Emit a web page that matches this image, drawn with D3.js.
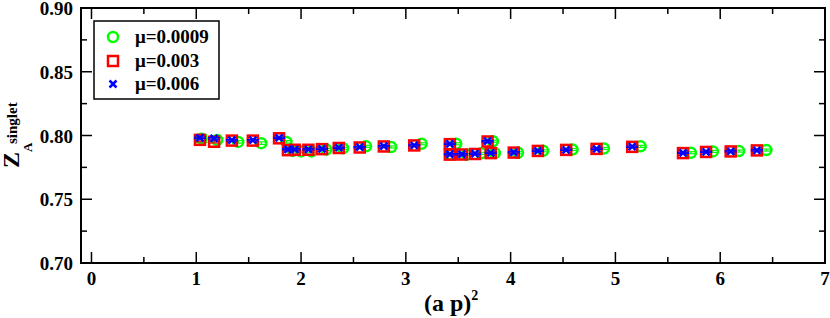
<!DOCTYPE html>
<html><head><meta charset="utf-8">
<script src="https://cdn.jsdelivr.net/npm/d3@7"></script>
<style>
body{margin:0;background:#fff;}
svg text{font-family:"Liberation Serif","Times New Roman",serif;font-weight:bold;}
</style></head>
<body><svg id="c" width="830" height="318"></svg>
<script>
// Data
const seriesNames = ["μ=0.0009", "μ=0.003", "μ=0.006"];
const xG = [1.05,1.20,1.40,1.62,1.86,1.92,2.00,2.10,2.24,2.40,2.62,2.86,3.15,3.48,3.43,3.58,3.72,3.83,3.85,4.07,4.31,4.59,4.89,5.24,5.72,5.93,6.18,6.44];
const yG = [0.7975,0.7965,0.7950,0.7940,0.7950,0.7880,0.7875,0.7875,0.7890,0.7900,0.7915,0.7910,0.7935,0.7935,0.7850,0.7850,0.7860,0.7955,0.7862,0.7865,0.7880,0.7890,0.7898,0.7915,0.7865,0.7875,0.7878,0.7886];
const eG = [0.0030,0.0015,0.0010,0.0010,0.0010,0.0010,0.0010,0.0010,0.0008,0.0008,0.0008,0.0008,0.0008,0.0008,0.0008,0.0008,0.0008,0.0008,0.0008,0.0008,0.0008,0.0008,0.0008,0.0008,0.0008,0.0008,0.0008,0.0008];
const xR = [1.035,1.17,1.34,1.54,1.79,1.875,1.94,2.07,2.20,2.36,2.56,2.79,3.08,3.42,3.42,3.535,3.66,3.78,3.81,4.03,4.26,4.53,4.82,5.16,5.645,5.865,6.10,6.35];
const yR = [0.7966,0.7951,0.7960,0.7960,0.7978,0.7885,0.7888,0.7888,0.7893,0.7902,0.7906,0.7914,0.7922,0.7932,0.7850,0.7851,0.7855,0.7953,0.7862,0.7866,0.7879,0.7887,0.7895,0.7911,0.7862,0.7871,0.7875,0.7883];
const eR = [0.0015,0.0010,0.0008,0.0008,0.0008,0.0006,0.0006,0.0006,0.0006,0.0006,0.0006,0.0006,0.0006,0.0006,0.0006,0.0006,0.0006,0.0006,0.0006,0.0006,0.0006,0.0006,0.0006,0.0006,0.0006,0.0006,0.0006,0.0006];
const xB = [1.035,1.17,1.34,1.54,1.79,1.875,1.94,2.07,2.20,2.36,2.56,2.79,3.08,3.42,3.42,3.535,3.66,3.78,3.81,4.03,4.26,4.53,4.82,5.16,5.645,5.865,6.10,6.35];
const yB = [0.7982,0.7978,0.7963,0.7963,0.7982,0.7892,0.7892,0.7892,0.7896,0.7904,0.7908,0.7916,0.7923,0.7935,0.7853,0.7853,0.7857,0.7955,0.7864,0.7868,0.7880,0.7888,0.7896,0.7912,0.7864,0.7872,0.7876,0.7884];
const eB = [0.0006,0.0006,0.0005,0.0005,0.0005,0.0005,0.0005,0.0005,0.0005,0.0005,0.0005,0.0005,0.0005,0.0005,0.0005,0.0005,0.0005,0.0005,0.0005,0.0005,0.0005,0.0005,0.0005,0.0005,0.0005,0.0005,0.0005,0.0005];
const xTicks = [0,1,2,3,4,5,6,7];
const yTicks = [0.70,0.75,0.80,0.85,0.90];
const xMinor = [0.5,1.5,2.5,3.5,4.5,5.5,6.5];
const yMinor = [0.725,0.775,0.825,0.875];

const svg = d3.select("#c");
const L=81, R=825, T=8, B=263;
const x = d3.scaleLinear().domain([-0.1,7.0]).range([L,R]);
const y = d3.scaleLinear().domain([0.70,0.90]).range([B,T]);

// ticks (inward, all four sides)
const tk = svg.append("g").attr("stroke","#000").attr("stroke-width",1.5);
const MAJ=11, MIN=6;
xTicks.forEach(v=>{ tk.append("line").attr("x1",x(v)).attr("x2",x(v)).attr("y1",B).attr("y2",B-MAJ);
  tk.append("line").attr("x1",x(v)).attr("x2",x(v)).attr("y1",T).attr("y2",T+MAJ);});
xMinor.forEach(v=>{ tk.append("line").attr("x1",x(v)).attr("x2",x(v)).attr("y1",B).attr("y2",B-MIN);
  tk.append("line").attr("x1",x(v)).attr("x2",x(v)).attr("y1",T).attr("y2",T+MIN);});
yTicks.forEach(v=>{ tk.append("line").attr("x1",L).attr("x2",L+MAJ).attr("y1",y(v)).attr("y2",y(v));
  tk.append("line").attr("x1",R).attr("x2",R-MAJ).attr("y1",y(v)).attr("y2",y(v));});
yMinor.forEach(v=>{ tk.append("line").attr("x1",L).attr("x2",L+MIN).attr("y1",y(v)).attr("y2",y(v));
  tk.append("line").attr("x1",R).attr("x2",R-MIN).attr("y1",y(v)).attr("y2",y(v));});

// frame
svg.append("rect").attr("x",L).attr("y",T).attr("width",R-L).attr("height",B-T)
  .attr("fill","none").attr("stroke","#000").attr("stroke-width",2);

// tick labels
svg.append("g").selectAll("text").data(xTicks).join("text")
  .attr("x",d=>x(d)).attr("y",285).attr("text-anchor","middle").attr("font-size",19).text(d=>d);
svg.append("g").selectAll("text").data(yTicks).join("text")
  .attr("x",73).attr("y",d=>y(d)+7).attr("text-anchor","end").attr("font-size",19).text(d=>d.toFixed(2));

// axis titles
const xt = svg.append("text").attr("x",424).attr("y",311).attr("font-size",24);
xt.append("tspan").text("(a p)");
xt.append("tspan").attr("font-size",14).attr("dy",-11).text("2");

const yt = svg.append("g").attr("transform","translate(19,168) rotate(-90)");
yt.append("text").attr("x",0).attr("y",0).attr("font-size",24).text("Z");
yt.append("text").attr("x",16).attr("y",13).attr("font-size",13).text("A");
yt.append("text").attr("x",24).attr("y",-2).attr("font-size",15).text("singlet");

// data
const colors = ["#00ff00","#ff0000","#0000ff"];
const sets = [{xs:xG,ys:yG,es:eG,c:colors[0],m:"circle"},{xs:xR,ys:yR,es:eR,c:colors[1],m:"square"},{xs:xB,ys:yB,es:eB,c:colors[2],m:"cross"}];
function marker(g, m, c, cx, cy){
  if(m==="circle") g.append("circle").attr("cx",cx).attr("cy",cy).attr("r",5).attr("fill","none").attr("stroke",c).attr("stroke-width",2.5);
  else if(m==="square") g.append("rect").attr("x",cx-5).attr("y",cy-5).attr("width",10).attr("height",10).attr("fill","none").attr("stroke",c).attr("stroke-width",2.5);
  else { const s=3.5; g.append("path").attr("d",`M${cx-s},${cy-s}L${cx+s},${cy+s}M${cx-s},${cy+s}L${cx+s},${cy-s}`).attr("stroke",c).attr("stroke-width",2.5); }
}
sets.forEach(s=>{
  const g = svg.append("g");
  s.xs.forEach((xv,i)=>{
    const cx=x(xv), cy=y(s.ys[i]), y1=y(s.ys[i]+s.es[i]), y2=y(s.ys[i]-s.es[i]);
    const eg=g.append("g").attr("stroke",s.c).attr("stroke-width",1.2);
    eg.append("line").attr("x1",cx).attr("x2",cx).attr("y1",y1).attr("y2",y2);
    eg.append("line").attr("x1",cx-6).attr("x2",cx+6).attr("y1",y1).attr("y2",y1);
    eg.append("line").attr("x1",cx-6).attr("x2",cx+6).attr("y1",y2).attr("y2",y2);
    marker(g, s.m, s.c, cx, cy);
  });
});

// legend
const lg = svg.append("g");
lg.append("rect").attr("x",94).attr("y",21).attr("width",125).attr("height",78).attr("fill","#fff").attr("stroke","#000").attr("stroke-width",1.5);
const ly=[37,61,84];
sets.forEach((s,i)=>{
  marker(lg, s.m, s.c, 113, ly[i]);
  lg.append("text").attr("x",135).attr("y",ly[i]+6).attr("font-size",19).text(seriesNames[i]);
});
</script></body></html>
